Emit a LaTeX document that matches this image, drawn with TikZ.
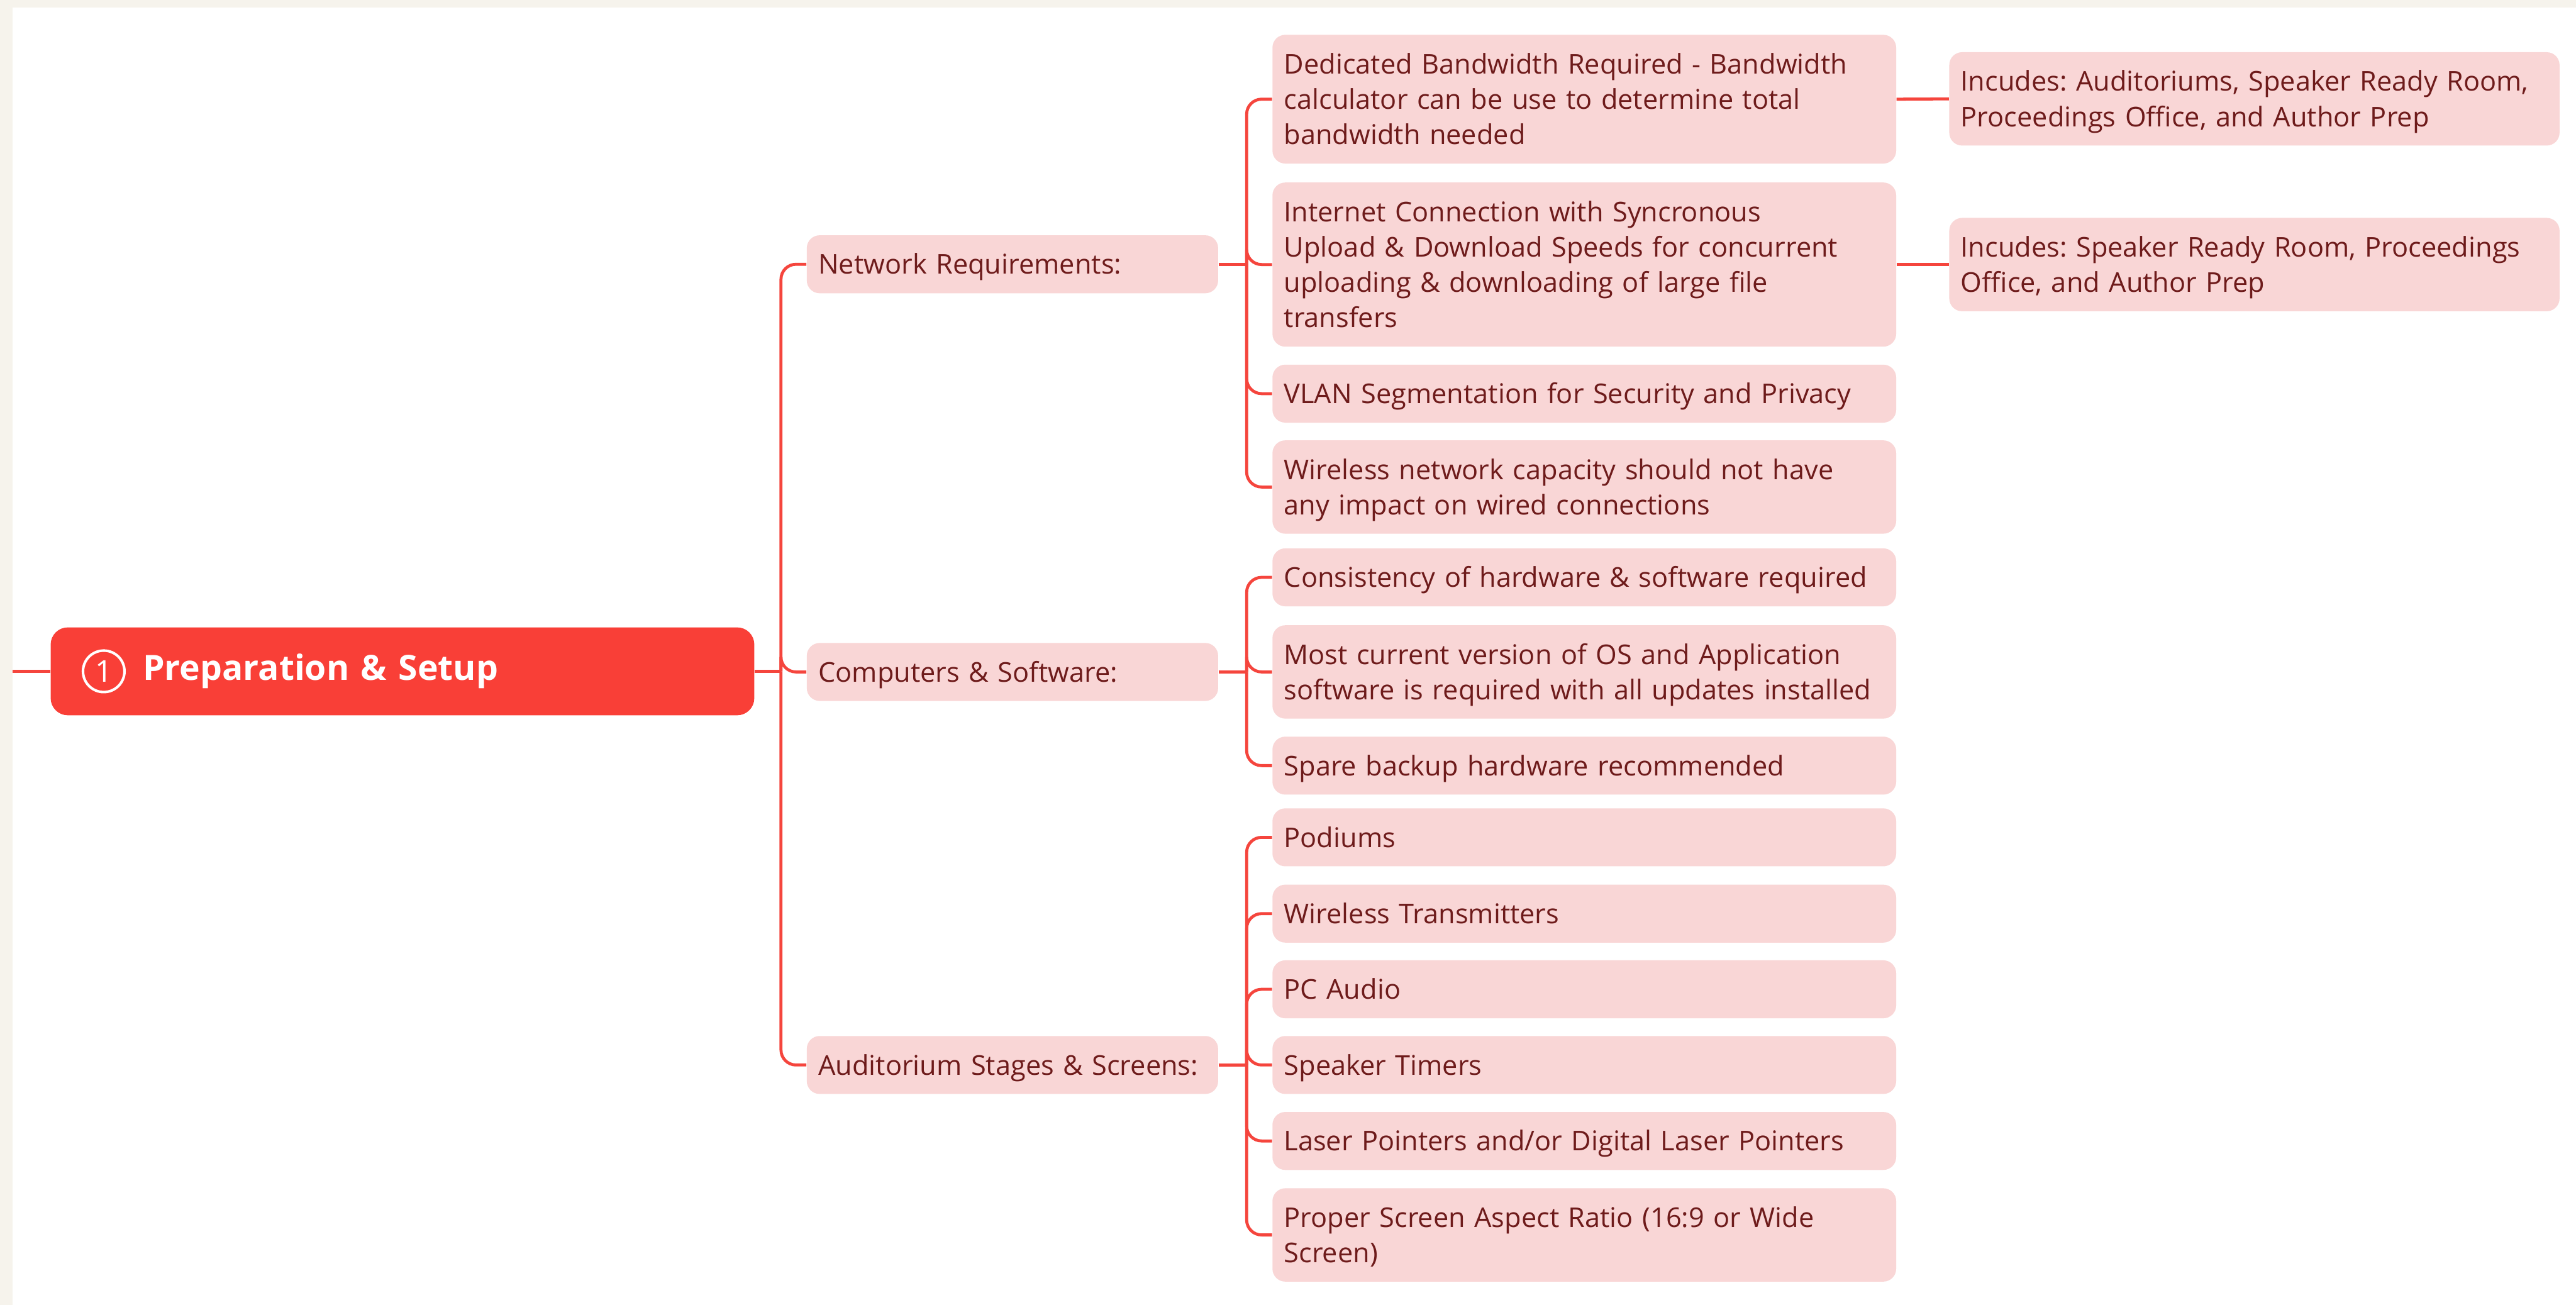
\documentclass[tikz,border=0pt]{standalone}
\usepackage{fontspec}
\setmainfont{Open Sans}
\usetikzlibrary{positioning, calc}
\definecolor{MapRed}{HTML}{F93F37}
\definecolor{LineRed}{HTML}{F5453D}
\definecolor{LeafPink}{HTML}{F9D6D6}
\definecolor{TextMaroon}{HTML}{6E1B1B}
\definecolor{PaperBeige}{HTML}{F6F3EC}
\newcommand\mapstrut{\rule[-0.22\baselineskip]{0pt}{\baselineskip}}
\frenchspacing

\begin{document}
\begin{tikzpicture}[
    font=\fontsize{12.7}{16.5}\selectfont,
    root/.style={fill=MapRed, rounded corners=8pt, text=white,
        font=\fontsize{16.2}{20}\selectfont\bfseries, minimum height=1.44cm,
        text width=8.51cm, inner xsep=1.51cm, align=left},
    branch/.style={fill=LeafPink, text=TextMaroon, rounded corners=6pt,
        text width=6.36cm, inner xsep=0.19cm, inner ysep=0.185cm, align=left,
        execute at begin node=\mapstrut, execute at end node=\mapstrut},
    leaf/.style={branch, text width=9.84cm},
    note/.style={branch, text width=9.62cm},
    numcirc/.style={circle, draw=white, line width=1.2pt, text=white,
        minimum size=0.68cm, inner sep=0pt, font=\fontsize{14}{14}\selectfont},
    link/.style={LineRed, line width=1.4pt, rounded corners=7pt},
]

% paper
\fill[PaperBeige] (0,0) rectangle (42.21,-21.38);
\fill[white] (0.21,-0.12) rectangle (42.21,-21.38);
\useasboundingbox (0,0) rectangle (42.21,-21.38);

% centre topic
\node[root] (root) at (6.595,-11.00) {Preparation \& Setup};
\node[numcirc] (num) at (1.70,-11.00) {1};
\coordinate (in) at (0.21,-11.00);
\draw[link] (in) -- (root.west);

% main branches
\node[branch] (net) at (16.59,-4.33) {Network Requirements:};
\node[branch] (comp) at (16.59,-11.01) {Computers \& Software:};
\node[branch] (aud) at (16.59,-17.45) {Auditorium Stages \& Screens:};

\coordinate (j0) at ([xshift=0.43cm]root.east);
\draw[link] (root.east) -- (j0);
\foreach \nm in {net,comp,aud}{
    \coordinate (j-\nm) at ([xshift=0.46cm]\nm.east);
    \draw[link] (j0) |- (\nm.west);
    \draw[link] (\nm.east) -- (j-\nm);
}

% details
\foreach \y/\nm/\src/\txt in {%
    1.625/bw/net/{Dedicated Bandwidth Required - Bandwidth\\calculator can be use to determine total\\bandwidth needed},
    4.335/inet/net/{Internet Connection with Syncronous\\Upload \& Download Speeds for concurrent\\uploading \& downloading of large file\\transfers},
    6.45/vlan/net/{VLAN Segmentation for Security and Privacy},
    7.98/wifi/net/{Wireless network capacity should not have\\any impact on wired connections},
    9.46/cons/comp/{Consistency of hardware \& software required},
    11.01/most/comp/{Most current version of OS and Application\\software is required with all updates installed},
    12.545/spare/comp/{Spare backup hardware recommended},
    13.72/pod/aud/{Podiums},
    14.97/wtx/aud/{Wireless Transmitters},
    16.21/pca/aud/{PC Audio},
    17.45/tim/aud/{Speaker Timers},
    18.695/las/aud/{Laser Pointers and/or Digital Laser Pointers},
    20.235/scr/aud/{Proper Screen Aspect Ratio (16:9 or Wide\\Screen)}%
}{
    \node[leaf] (\nm) at (25.96,-\y) {\txt};
    \draw[link] (j-\src) |- (\nm.west);
}

% locations
\node[note] (inc1) at (36.94,-1.62) {Incudes: Auditoriums, Speaker Ready Room,\\Proceedings Office, and Author Prep};
\node[note] (inc2) at (36.94,-4.335) {Incudes: Speaker Ready Room, Proceedings\\Office, and Author Prep};
\draw[link] (bw.east) -- (inc1.west);
\draw[link] (inet.east) -- (inc2.west);

\end{tikzpicture}
\end{document}
